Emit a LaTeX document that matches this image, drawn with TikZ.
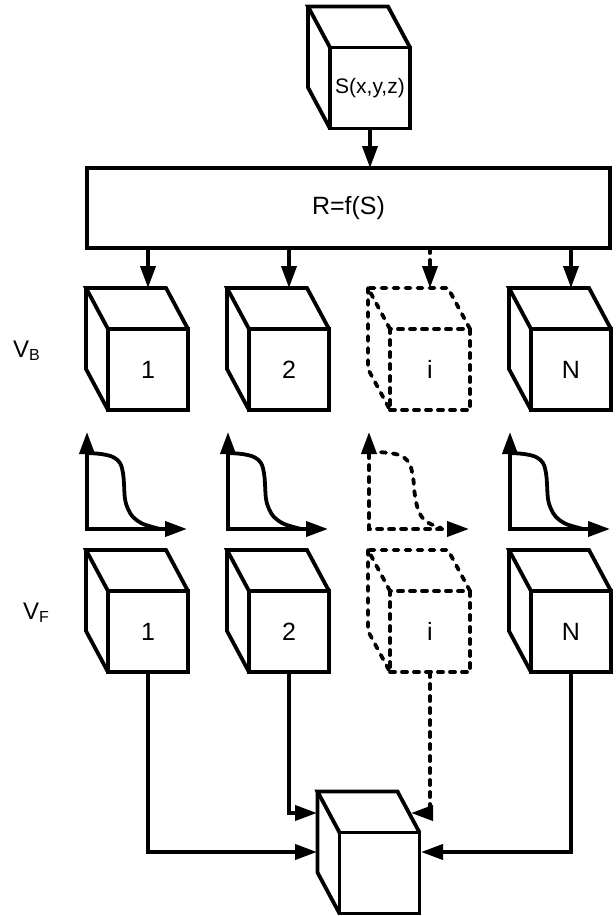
\documentclass[tikz,border=0pt]{standalone}
\usepackage{fontspec}
\setmainfont{Liberation Sans}
\usetikzlibrary{arrows.meta,calc}

% cube: front face is a named node, top and left faces drawn behind it
\newcommand{\drawcube}[4][]{%
  \node[face,#1] (#2) at (#3) {#4};
  \draw[edge,#1] (#2.north west) -- ++(-22,-41) coordinate (#2-bl) -- ++(80,0) -- (#2.north east);
  \draw[edge,#1] (#2-bl) -- ++(0,81) -- (#2.south west);
  \coordinate (#2-top) at ($(#2.north)+(0,-41)$);
}

\begin{document}
\begin{tikzpicture}[x=1pt, y=-1pt,
    face/.style={draw, fill=white, line width=3.8pt, outer sep=0pt, inner sep=0pt,
      minimum width=80pt, minimum height=81pt, font=\fontsize{25}{30}\selectfont},
    edge/.style={line width=3.8pt, line join=miter},
    arr/.style={line width=3.8pt, -{Triangle[length=22pt,width=15pt]}},
    axes/.style={line width=3.8pt, line join=miter,
      {Triangle[length=22pt,width=15pt]}-{Triangle[length=22pt,width=15pt]}},
    dotline/.style={dash pattern=on 5pt off 7pt, line cap=round},
    lbl/.style={font=\fontsize{24}{28}\selectfont, anchor=base west, inner sep=0pt}
]
    \useasboundingbox (0,0) rectangle (616,916);

    % source volume and mapping
    \drawcube[font=\fontsize{21}{25}\selectfont]{src}{370,88}{S(x,y,z)}
    \node[face, minimum width=523pt, minimum height=80pt] (map) at (348.5,208) {R=f(S)};
    \draw[arr] (src.south) -- (src.south |- map.north);

    % V_B row
    \node[lbl] (vb) at (13,357) {V\raisebox{-3pt}{\fontsize{16}{16}\selectfont B}};
    \drawcube{b1}{148,369.5}{1}
    \drawcube{b2}{289,369.5}{2}
    \drawcube[dotline]{bi}{430,369.5}{i}
    \drawcube{bN}{571,369.5}{N}

    \draw[arr] (map.south -| b1-top) -- (b1-top);
    \draw[arr] (map.south -| b2-top) -- (b2-top);
    \draw[arr, dotline] (map.south -| bi-top) -- (bi-top);
    \draw[arr] (map.south -| bN-top) -- (bN-top);

    % transfer curves
    \foreach \x in {87, 228, 510} {
        \begin{scope}[shift={(\x,529)}]
            \draw[axes] (0,-97) -- (0,0) -- (100,0);
            \draw[edge] plot[smooth, tension=0.6] coordinates
                {(0,-76) (14,-75) (26,-72) (33,-66) (36,-56) (37,-45) (38,-30) (41,-20) (46,-12) (54,-6) (62,-3) (73,0)};
        \end{scope}
    }
    \begin{scope}[shift={(369,529)}]
        \draw[axes, dotline] (0,-97) -- (0,0) -- (100,0);
        \draw[edge, dotline] plot[smooth, tension=0.6] coordinates
            {(0,-77) (10,-77) (30,-74) (40,-66) (44,-52) (46,-33) (50,-17) (58,-7) (72,-1)};
    \end{scope}

    % V_F row
    \node[lbl] (vf) at (23,619) {V\raisebox{-3pt}{\fontsize{16}{16}\selectfont F}};
    \drawcube{f1}{148,631.5}{1}
    \drawcube{f2}{289,631.5}{2}
    \drawcube[dotline]{fi}{430,631.5}{i}
    \drawcube{fN}{571,631.5}{N}

    % output volume
    \drawcube{out}{379.5,873}{}
    \coordinate (in1) at (317,813);
    \coordinate (in2) at (317,852);
    \coordinate (in3) at (411,813);
    \coordinate (in4) at (421,852);

    \draw[arr] (f1.south) |- (in2);
    \draw[arr] (f2.south) |- (in1);
    \draw[arr, dotline] (fi.south) |- (in3);
    \draw[arr] (fN.south) |- (in4);

\end{tikzpicture}
\end{document}
